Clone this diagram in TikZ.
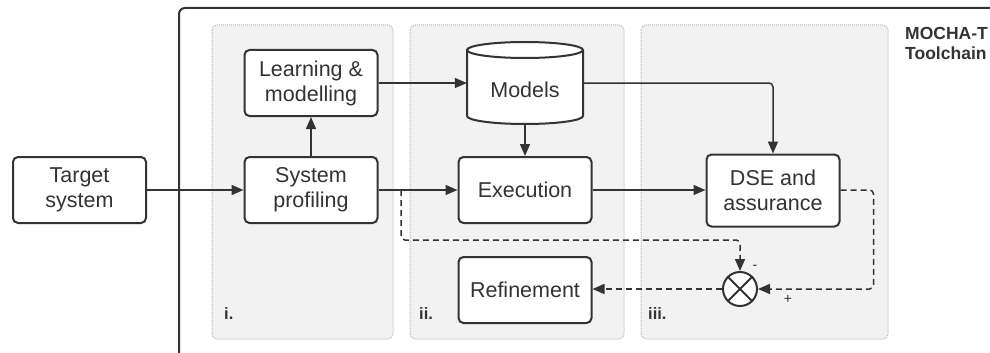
\documentclass[tikz,border=0pt]{standalone}
\usepackage{fontspec}
\setmainfont{Liberation Sans}
\usetikzlibrary{arrows.meta}
\definecolor{ink}{HTML}{333333}
\definecolor{panelfill}{HTML}{F2F2F2}
\definecolor{paneledge}{HTML}{B8B8B8}

\begin{document}
\begin{tikzpicture}[x=1pt,y=-1pt,
  block/.style={draw=ink, line width=2pt, fill=white, rounded corners=5pt,
    align=center, inner sep=0pt, text=ink, minimum width=133pt, minimum height=66pt,
    font=\fontsize{21.5}{25}\selectfont},
  panel/.style={draw=paneledge, densely dotted, line width=1pt, fill=panelfill, rounded corners=5pt},
  flow/.style={draw=ink, line width=1.5pt, rounded corners=4pt, -{Triangle[length=12pt,width=10pt]}},
  feedback/.style={flow, dash pattern=on 6pt off 4pt},
  tag/.style={font=\bfseries\fontsize{16.5}{18}\selectfont, text=ink, anchor=base west, inner sep=0pt},
  sign/.style={font=\fontsize{14}{16}\selectfont, text=ink, inner sep=0pt}
]
\useasboundingbox (0,0) rectangle (990,353);
\clip (0,0) rectangle (990,353);

% toolchain frame (runs past the page edge)
\draw[ink, line width=2pt, rounded corners=6pt] (179,8) rectangle (1030,390);
\node[font=\bfseries\fontsize{17.5}{20}\selectfont, text=ink, align=left, anchor=north west, inner sep=0pt]
  (title) at (905,27) {MOCHA-T\\Toolchain};

% stage panels
\draw[panel] (212,25) rectangle (393,339);
\draw[panel] (410,25) rectangle (624,339);
\draw[panel] (641,25) rectangle (888,339);
\node[tag] (tagi) at (224,319) {i.};
\node[tag] (tagii) at (419,319) {ii.};
\node[tag] (tagiii) at (648,319) {iii.};

% blocks
\node[block] (target) at (79.5,190) {Target\\system};
\node[block] (prof) at (311,190) {System\\profiling};
\node[block] (learn) at (311,83) {Learning \&\\modelling};
\node[block] (exec) at (525,190) {Execution};
\node[block, minimum height=72pt] (dse) at (773,190.5) {DSE and\\assurance};
\node[block] (refine) at (525,290) {Refinement};

% model store
\begin{scope}[line width=2pt, draw=ink]
  \path[fill=white] (467,50) -- (467,116) arc[start angle=180, end angle=0, x radius=58, y radius=8]
    -- (583,50) arc[start angle=0, end angle=-180, x radius=58, y radius=8] -- cycle;
  \draw[ink] (467,50) -- (467,116) arc[start angle=180, end angle=0, x radius=58, y radius=8] -- (583,50);
  \draw[ink] (525,50) ellipse[x radius=58, y radius=8];
\end{scope}
\node[inner sep=0pt, minimum width=116pt, minimum height=69pt, text=ink,
  font=\fontsize{21.5}{25}\selectfont] (models) at (525,89.5) {Models};

% comparator
\node[circle, draw=ink, line width=2pt, fill=white, minimum size=34pt, inner sep=0pt] (sum) at (740,289) {};
\draw[ink, line width=2pt] (sum.north east) -- (sum.south west) (sum.north west) -- (sum.south east);
\node[sign] (minus) at (755,267) {-};
\node[sign] (plus) at (788,299) {+};

% main flow
\draw[flow] (target.east) -- (prof.west);
\draw[flow] (prof.north) -- (learn.south);
\draw[flow] (learn.east) -- (learn.east -| models.west);
\draw[flow] (prof.east) -- (exec.west);
\draw[flow] (models.south) -- (exec.north);
\draw[flow] (learn.east -| models.east) -| (dse.north);
\draw[flow] (exec.east) -- (exec.east -| dse.west);

% feedback loop
\coordinate (split) at (401,190);
\draw[feedback] (split) -- ++(0,50) -| (sum.north);
\draw[feedback] (dse.east |- exec.east) -- ++(33,0) |- (sum.east);
\draw[feedback] (sum.west) -- (sum.west -| refine.east);
\end{tikzpicture}
\end{document}
